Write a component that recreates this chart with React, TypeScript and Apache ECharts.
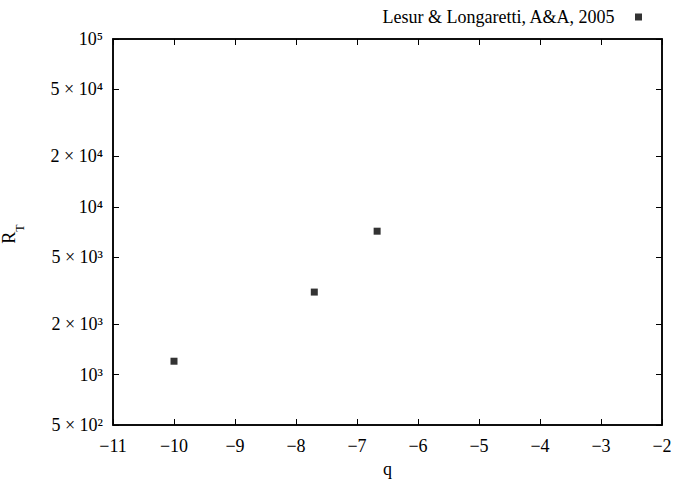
import React, { useEffect, useRef } from "react";
import * as echarts from "echarts";

const qValues = [-10, -7.7, -6.67];
const rtValues = [1200, 3100, 7150];
const yTickValues = [500, 1000, 2000, 5000, 10000, 20000, 50000, 100000];
const xTickValues = [-11, -10, -9, -8, -7, -6, -5, -4, -3, -2];
const seriesName = "Lesur & Longaretti, A&A, 2005";

const FONT = "Liberation Serif";
const SUP = ["\u2070", "\u00B9", "\u00B2", "\u00B3", "\u2074", "\u2075", "\u2076", "\u2077", "\u2078", "\u2079"];

function fmtY(logV: number): string {
  const v = Math.pow(10, logV);
  const e = Math.floor(Math.log10(v) + 1e-9);
  const m = Math.round(v / Math.pow(10, e));
  const sup = String(e).split("").map((c) => SUP[Number(c)]).join("");
  if (m === 1) return `10${sup}`;
  return `${m} × 10${sup}`;
}

export default function App() {
  const ref = useRef<HTMLDivElement>(null);
  useEffect(() => {
    if (!ref.current) return;
    const chart = echarts.init(ref.current, undefined, { renderer: "svg" });
    const yMin = Math.log10(500);
    const yMax = 5;
    const yTicksLog = yTickValues.map((v) => Math.log10(v));
    const tickStyle = { show: true, inside: true, length: 6, lineStyle: { color: "#000", width: 1 } };
    const labelText = { fontFamily: FONT, fontSize: 18, color: "#000", fontWeight: "normal" as const };
    chart.setOption({
      animation: false,
      backgroundColor: "#fff",
      textStyle: { fontFamily: FONT, fontSize: 18 },
      grid: {
        left: 113,
        right: 11,
        top: 39,
        bottom: 57,
        containLabel: false,
        outerBoundsMode: "none",
        show: true,
        borderColor: "#000",
        borderWidth: 1.5,
      },
      legend: {
        show: true,
        right: 26,
        top: 3,
        icon: "path://M0,0L1,0L1,1L0,1Z",
        itemWidth: 38,
        itemHeight: 7,
        align: "right",
        textStyle: { ...labelText },
        data: [seriesName],
      },
      graphic: [
        {
          type: "text",
          x: 13,
          y: 234,
          rotation: Math.PI / 2,
          style: {
            text: "{r|R}{t|T}",
            align: "center",
            verticalAlign: "middle",
            fontFamily: FONT,
            fontSize: 18,
            rich: {
              r: { fontFamily: FONT, fontSize: 18, fill: "#000", color: "#000", lineHeight: 22, verticalAlign: "top" },
              t: { fontFamily: FONT, fontSize: 12, fill: "#000", color: "#000", lineHeight: 26, verticalAlign: "bottom" },
            },
          },
        },
      ],
      xAxis: [
        {
          type: "value",
          min: -11,
          max: -2,
          interval: 1,
          name: "q",
          nameLocation: "middle",
          nameGap: 34,
          nameTextStyle: { ...labelText },
          axisLine: { show: true, lineStyle: { color: "#000", width: 1.5 } },
          axisTick: { ...tickStyle, customValues: xTickValues },
          axisLabel: {
            ...labelText,
            customValues: xTickValues,
            margin: 12,
            formatter: (v: number) => (v < 0 ? "\u2212" + Math.abs(v) : String(v)),
          },
          splitLine: { show: false },
        },
        {
          type: "value",
          position: "top",
          min: -11,
          max: -2,
          interval: 1,
          axisLine: { show: true, lineStyle: { color: "#000", width: 1.5 } },
          axisTick: { ...tickStyle, customValues: xTickValues },
          axisLabel: { show: false },
          splitLine: { show: false },
        },
      ],
      yAxis: [
        {
          type: "value",
          min: yMin,
          max: yMax,
          axisLine: { show: true, lineStyle: { color: "#000", width: 1.5 } },
          axisTick: { ...tickStyle, customValues: yTicksLog },
          axisLabel: {
            ...labelText,
            customValues: yTicksLog,
            margin: 10,
            formatter: (v: number) => fmtY(v),
          },
          splitLine: { show: false },
        },
        {
          type: "value",
          position: "right",
          min: yMin,
          max: yMax,
          axisLine: { show: true, lineStyle: { color: "#000", width: 1.5 } },
          axisTick: { ...tickStyle, customValues: yTicksLog },
          axisLabel: { show: false },
          splitLine: { show: false },
        },
      ],
      series: [
        {
          name: seriesName,
          type: "scatter",
          symbol: "rect",
          symbolSize: 7,
          itemStyle: { color: "#000" },
          data: qValues.map((q, i) => [q, Math.log10(rtValues[i])]),
        },
      ],
    });
    return () => chart.dispose();
  }, []);
  return <div ref={ref} style={{ width: 673, height: 482, position: "absolute", left: 0, top: 0 }} />;
}
